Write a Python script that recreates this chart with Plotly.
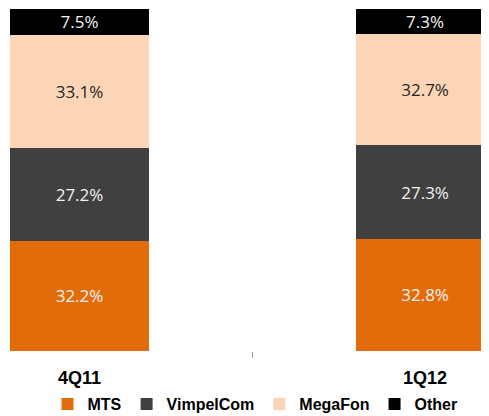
import plotly.graph_objects as go

periods = ["4Q11", "1Q12"]
x_pos = [0, 1]
mts = [32.2, 32.8]
vimpelcom = [27.2, 27.3]
megafon = [33.1, 32.7]
other = [7.5, 7.3]

series = [
    ("MTS", mts, "#E36C0A", "#F2F2F2"),
    ("VimpelCom", vimpelcom, "#404040", "#F2F2F2"),
    ("MegaFon", megafon, "#FBD5B5", "#262626"),
    ("Other", other, "#000000", "#F2F2F2"),
]

# The page body adds an 8px margin, so the figure is 481x408 and sits at (8, 8).
W, H = 481, 408
T, B = 1, 65
plot_h = H - T - B

fig = go.Figure()
for name, vals, color, tcolor in series:
    fig.add_trace(go.Bar(
        x=x_pos, y=vals, name=name, width=0.402,
        marker=dict(color=color, line=dict(width=0)),
        text=[f"{v:.1f}%" for v in vals],
        textposition="inside", insidetextanchor="middle",
        textfont=dict(family="Open Sans", size=17, color=tcolor),
        hoverinfo="skip",
    ))

for xp, lab in zip(x_pos, periods):
    fig.add_annotation(x=xp, y=-27 / plot_h, xref="x", yref="paper", text=f"<b>{lab}</b>",
                       showarrow=False,
                       font=dict(family="Liberation Sans", size=18, color="#000000"),
                       xanchor="center", yanchor="middle")

fig.update_layout(
    barmode="stack",
    width=W, height=H,
    margin=dict(l=0, r=0, t=T, b=B, autoexpand=False),
    paper_bgcolor="white", plot_bgcolor="white",
    uniformtext=dict(minsize=17, mode="show"),
    xaxis=dict(range=[-0.207, 1.185], tickvals=[0.5], ticktext=[""], ticks="outside",
               ticklen=6, tickcolor="#A0A0A0", tickwidth=1, showgrid=False,
               zeroline=False, showline=False, fixedrange=True),
    yaxis=dict(range=[0, 100], visible=False, fixedrange=True),
    showlegend=True,
    legend=dict(orientation="h", x=247 / W, xanchor="center", xref="container",
                y=12 / H, yanchor="middle", yref="container",
                font=dict(family="Liberation Sans", size=16,
                          color="#000000", weight="bold"),
                itemwidth=30, traceorder="normal"),
)

fig.write_html("out.html")
